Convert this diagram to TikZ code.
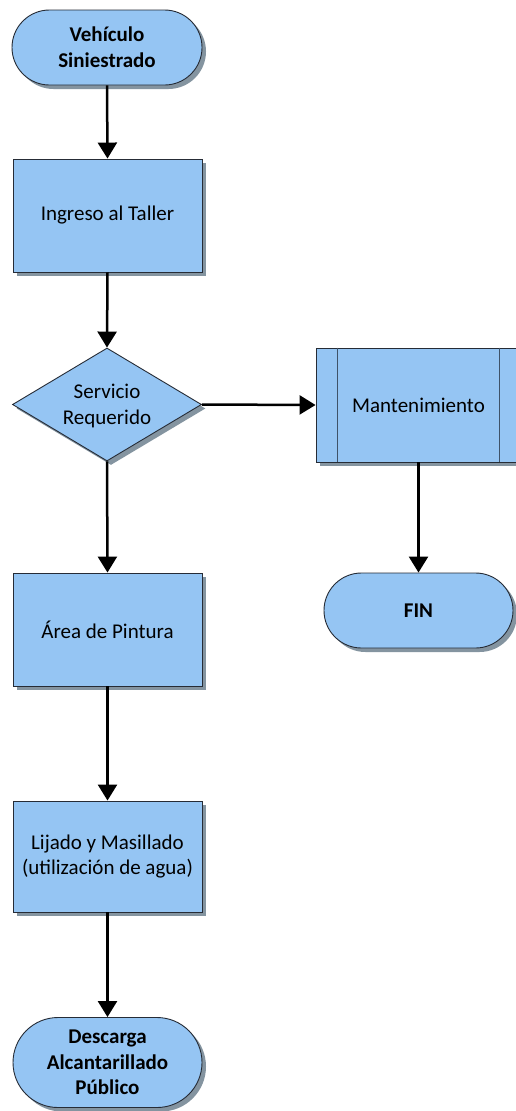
\documentclass[tikz,border=0pt]{standalone}
\usepackage{fontspec}
\setmainfont{Carlito}
\usetikzlibrary{shapes.geometric,shadows,arrows.meta,calc}
\definecolor{boxfill}{RGB}{149,197,243}
\definecolor{boxline}{RGB}{38,44,54}
\definecolor{shadowc}{RGB}{132,148,160}
\definecolor{innerline}{RGB}{62,82,104}
\tikzset{
  base/.style={draw=boxline, line width=0.9pt, fill=boxfill, inner sep=0pt,
    align=center, font=\fontsize{21}{25.6}\selectfont,
    drop shadow={shadow xshift=4pt, shadow yshift=-4pt, fill=shadowc, opacity=1}},
  terminal/.style={base, rectangle, rounded corners=#1, font=\bfseries\fontsize{21}{25.6}\selectfont},
  process/.style={base, rectangle},
  decision/.style={base, diamond, minimum width=189pt, minimum height=113pt},
  flow/.style={line width=2.5pt, -{Triangle[width=19pt,length=16pt]}},
  label/.style={align=center, inner sep=0pt, font=\fontsize{21}{25.6}\selectfont}
}
\begin{document}
\begin{tikzpicture}[x=1pt, y=-1pt]
\useasboundingbox (0,0) rectangle (515,1111);
\fill[white] (0,0) rectangle (515,1111);

% main column
\node[terminal=37.5pt, minimum width=190pt, minimum height=75pt] (start) at (107,47.5) {Vehículo\\Siniestrado};
\node[process, minimum width=189pt, minimum height=113pt] (ingreso) at (107.5,215.5) {Ingreso al Taller};
\node[decision] (serv) at (107,404.5) {};
\node[label] (servtxt) at (107,406) {Servicio\\Requerido};
\node[process, minimum width=189pt, minimum height=113pt] (area) at (107.5,629.5) {Área de Pintura};
\node[process, minimum width=189pt, minimum height=111pt] (lijado) at (107.5,856.5) {Lijado y Masillado\\(utilización de agua)};
\node[terminal=45pt, minimum width=189pt, minimum height=90pt] (descarga) at (107.5,1062.5) {Descarga\\Alcantarillado\\Público};

% maintenance branch
\node[process, minimum width=205pt, minimum height=114pt] (mant) at (418.5,405) {Mantenimiento};
\draw[innerline, line width=0.9pt] ([xshift=22pt]mant.north west) -- ([xshift=22pt]mant.south west);
\draw[innerline, line width=0.9pt] ([xshift=-22pt]mant.north east) -- ([xshift=-22pt]mant.south east);
\node[terminal=37.5pt, minimum width=189pt, minimum height=75pt] (fin) at (418.5,610.5) {FIN};

% connectors
\draw[flow] (start.south) -- (ingreso.north);
\draw[flow] (ingreso.south) -- (serv.north);
\draw[flow] (serv.east) -- (mant.west);
\draw[flow] (serv.south) -- (area.north);
\draw[flow] (area.south) -- (lijado.north);
\draw[flow] (lijado.south) -- (descarga.north);
\draw[flow] (mant.south) -- (fin.north);
\end{tikzpicture}
\end{document}
